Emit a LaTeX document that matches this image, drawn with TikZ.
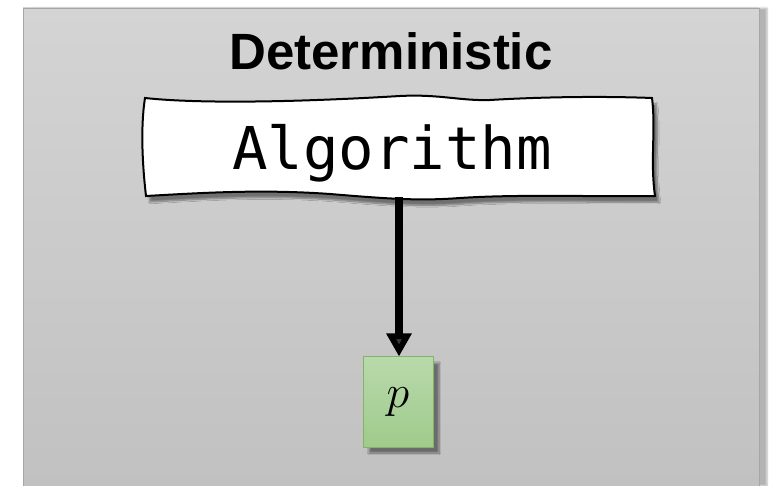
\RequirePackage{fix-cm}
\documentclass[tikz,border=0pt]{standalone}
\usepackage{fontspec}
\usetikzlibrary{arrows.meta,shadows.blur}
\newfontfamily\headfont{Liberation Sans}
\newfontfamily\codefont{DejaVu Sans Mono}
\definecolor{panelTop}{HTML}{D4D4D4}
\definecolor{panelBot}{HTML}{C1C1C1}
\definecolor{panelEdge}{HTML}{A6A6A6}
\definecolor{leafTop}{HTML}{B9D9AC}
\definecolor{leafBot}{HTML}{9FCB8B}
\definecolor{leafEdge}{HTML}{82B366}
\tikzset{
  panel/.style={draw=panelEdge, line width=0.8pt, top color=panelTop, bottom color=panelBot,
    blur shadow={shadow xshift=8pt, shadow yshift=0pt, shadow blur steps=6, shadow opacity=30}},
  title/.style={font=\headfont\bfseries\fontsize{51}{51}\selectfont, inner sep=0pt},
  wavybox/.style={draw=black, line width=2pt, fill=white,
    blur shadow={shadow xshift=4pt, shadow yshift=-6pt, shadow blur steps=8, shadow opacity=45}},
  codetext/.style={font=\codefont\fontsize{59}{59}\selectfont, inner sep=0pt},
  leaf/.style={draw=leafEdge, line width=1pt, top color=leafTop, bottom color=leafBot,
    minimum width=70pt, minimum height=90pt, inner sep=0pt,
    blur shadow={shadow xshift=6pt, shadow yshift=-6pt, shadow blur steps=8, shadow opacity=45}},
  flow/.style={line width=8pt, -{Triangle[width=24pt,length=23pt]}}
}
\begin{document}
\begin{tikzpicture}[x=1pt,y=-1pt]
  \useasboundingbox (0,0) rectangle (774,486);
  % grey panel
  \path[panel] (23,8) rectangle (759,486);
  \node[title, anchor=base] (head) at (391,70) {Deterministic};
  % hand-drawn box around the algorithm
  \path[wavybox]
    (145,98) .. controls (200,104) and (300,102) .. (400,96)
             .. controls (440,94) and (460,101) .. (490,100)
             .. controls (540,97) and (600,96) .. (652,98)
             .. controls (656,130) and (650,160) .. (655,196)
             .. controls (600,197) and (520,194) .. (460,198)
             .. controls (420,201) and (390,199) .. (330,194)
             .. controls (260,189) and (200,193) .. (146,196)
             .. controls (143,170) and (140,130) .. (145,98) -- cycle;
  \node[codetext] (algo) at (392,153) {Algorithm};
  \coordinate (algoout) at (399,197);
  % output node
  \node[leaf] (p) at (398,402) {\fontsize{46}{46}\selectfont$p$};
  \draw[flow] (algoout) -- (p.north -| algoout);
\end{tikzpicture}
\end{document}
